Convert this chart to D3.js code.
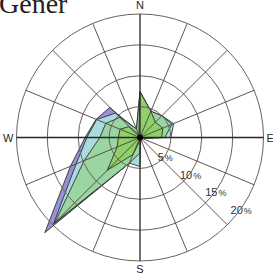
<!DOCTYPE html>
<html>
<head>
<meta charset="utf-8">
<script src="https://cdn.jsdelivr.net/npm/d3@7"></script>
<style>
  body { margin: 0; background: #fff; }
  svg { display: block; }
</style>
</head>
<body>
<div id="chart"></div>
<script>
const W = 273, H = 277
const cx = 140, cy = 137.5

// 16 compass directions, clockwise from north
const directions = ["N","NNE","NE","ENE","E","ESE","SE","SSE","S","SSW","SW","WSW","W","WNW","NW","NNW"]
// frequency (%) per direction, one array per layer (drawn back to front)
const purple = [1, 1, 1, 1, 1, 0.3, 0.3, 0.3, 1, 4.5, 21.8, 12.2, 8.9, 7.7, 6.9, 1]
const cyan   = [7.4, 4.6, 5.0, 5.9, 5.0, 0.3, 0.3, 0.3, 4.7, 4.5, 19.8, 11.2, 8.6, 7.6, 5.6, 1.5]
const sea    = [7.4, 4.6, 5.0, 5.6, 4.0, 0.3, 0.3, 0.3, 2.5, 4.5, 19.5, 9.8, 6.5, 6.0, 4.6, 1.5]
const bright = [7.4, 4.6, 3.5, 4.0, 3.5, 0.3, 0.3, 0.3, 0.5, 3.0, 7.5, 4.0, 3.5, 3.5, 2.5, 0.5]
const ringTicks = [5, 10, 15, 20]
const compass = ["N", "E", "S", "W"]

const layers = [
    { name: "purple", values: purple, color: "#9b90d6" },
    { name: "cyan", values: cyan, color: "#a9dddd" },
    { name: "sea", values: sea, color: "#9bd5a2" },
    { name: "bright", values: bright, color: "#8fd068" }
]

const svg = d3.select("#chart")
    .append("svg")
    .attr("width", W)
    .attr("height", H)

const r = d3.scaleLinear()
    .domain([0, 20])
    .range([0, 123.5])

const angle = d3.scalePoint()
    .domain(directions.concat(["_end"]))
    .range([0, 2 * Math.PI])

const g = svg.append("g")
    .attr("transform", `translate(${cx}, ${cy})`)

const radial = d3.lineRadial()
    .angle((d, i) => angle(directions[i]))
    .radius(d => r(d))
    .curve(d3.curveLinearClosed)

g.selectAll("path.layer")
    .data(layers)
    .enter()
    .append("path")
    .attr("class", "layer")
    .attr("d", d => radial(d.values))
    .attr("fill", d => d.color)
    .attr("stroke", "#1e1e1e")
    .attr("stroke-width", 0.8)
    .attr("stroke-linejoin", "round")

// rings
g.selectAll("circle.ring")
    .data(ringTicks)
    .enter()
    .append("circle")
    .attr("class", "ring")
    .attr("r", d => r(d))
    .attr("fill", "none")
    .attr("stroke", "#6a625c")
    .attr("stroke-width", 1)

// spokes
const pt = (dir, v) => {
    const a = angle(dir)
    return [Math.sin(a) * r(v), -Math.cos(a) * r(v)]
}
g.selectAll("line.spoke")
    .data(directions)
    .enter()
    .append("line")
    .attr("class", "spoke")
    .attr("x1", 0)
    .attr("y1", 0)
    .attr("x2", d => pt(d, 20)[0])
    .attr("y2", d => pt(d, 20)[1])
    .attr("stroke", d => compass.includes(d) ? "#2a2522" : "#4a433e")
    .attr("stroke-width", d => compass.includes(d) ? 1.3 : 0.9)

g.append("circle")
    .attr("r", 3)
    .attr("fill", "#000")

// ring labels
const labelAngle = 125 * Math.PI / 180
const lab = g.selectAll("text.ring-label")
    .data(ringTicks)
    .enter()
    .append("text")
    .attr("class", "ring-label")
    .attr("x", d => Math.sin(labelAngle) * r(d))
    .attr("y", d => -Math.cos(labelAngle) * r(d))
    .attr("dy", "0.35em")
    .attr("text-anchor", "middle")
    .attr("font-family", "Liberation Sans, Arial, sans-serif")
    .attr("fill", "#333")
lab.append("tspan")
    .attr("font-size", "11px")
    .text(d => d)
lab.append("tspan")
    .attr("font-size", "9px")
    .attr("dx", 1)
    .text("%")

// compass labels
const compassPos = {
    N: [0, -r(20) - 5, "middle"],
    E: [r(20) + 3, 4, "start"],
    S: [0, r(20) + 12, "middle"],
    W: [-r(20) - 3, 4, "end"]
}
g.selectAll("text.compass")
    .data(compass)
    .enter()
    .append("text")
    .attr("class", "compass")
    .attr("x", d => compassPos[d][0])
    .attr("y", d => compassPos[d][1])
    .attr("text-anchor", d => compassPos[d][2])
    .attr("font-family", "Liberation Sans, Arial, sans-serif")
    .attr("font-size", "11px")
    .attr("fill", "#2a2522")
    .text(d => d)

// title, cut off at the top as in the source
svg.append("text")
    .attr("x", -1)
    .attr("y", 13)
    .attr("font-family", "Liberation Serif, Times New Roman, serif")
    .attr("font-size", "28px")
    .attr("fill", "#222")
    .text("Gener")
</script>
</body>
</html>
